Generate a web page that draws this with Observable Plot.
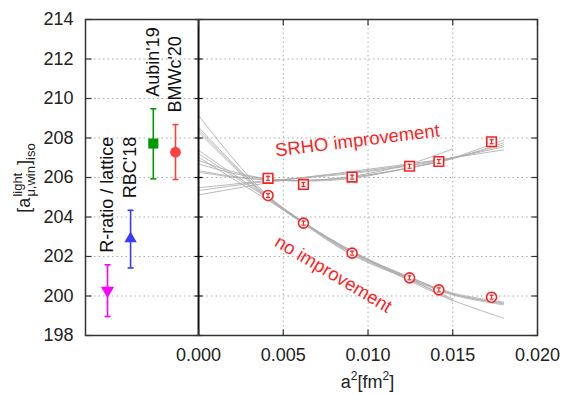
<!DOCTYPE html>
<html>
<head>
<meta charset="utf-8">
<script src="https://cdn.jsdelivr.net/npm/d3@7"></script>
<script src="https://cdn.jsdelivr.net/npm/@observablehq/plot@0.6"></script>
<style>
  html, body { margin: 0; padding: 0; background: white; }
</style>
</head>
<body>
<script>
// ---- reference results (left panel) ----
const refLabels = ["R-ratio / lattice", "RBC'18", "Aubin'19", "BMWc'20"];
const refX = [-0.00537, -0.00401, -0.00267, -0.00136];
const refValue = [200.28, 202.90, 207.72, 207.28];
const refLow = [198.96, 201.42, 205.93, 205.90];
const refHigh = [201.58, 204.34, 209.48, 208.68];

// ---- lattice data (right panel) ----
const a2 = [0.00410, 0.00619, 0.00906, 0.01245, 0.01418, 0.01729];
const srho = [205.96, 205.65, 206.02, 206.57, 206.81, 207.81];
const srhoErr = [0.10, 0.10, 0.10, 0.10, 0.10, 0.10];
const noImp = [205.09, 203.69, 202.17, 200.92, 200.31, 199.94];
const noImpErr = [0.10, 0.10, 0.10, 0.10, 0.10, 0.10];

// ---- fit curves, read at knots ----
const fitX = [0, 0.002, 0.004, 0.0062, 0.009, 0.0125, 0.015, 0.018];
const srhoFits = [
  [205.12, 205.42, 205.72, 206.00, 206.30, 206.70, 207.00, 207.40],
  [205.34, 205.58, 205.80, 206.00, 206.25, 206.65, 207.00, 207.55],
  [205.48, 205.66, 205.84, 205.98, 206.20, 206.60, 207.00, 207.65],
  [206.27, 206.02, 205.88, 205.84, 206.02, 206.50, 206.95, 207.76],
  [206.35, 206.06, 205.90, 205.85, 206.00, 206.50, 207.00, 207.90],
  [206.69, 206.22, 205.93, 205.82, 205.95, 206.50, 206.95, null],
  [206.86, 206.30, 205.95, 205.85, 206.05, 206.70, 207.45, null]
];
const noImpFits = [
  [209.14, 207.00, 205.15, 203.72, 202.20, 200.88, 200.10, 199.64],
  [208.55, 206.75, 205.10, 203.72, 202.22, 200.92, 200.15, 199.69],
  [208.42, 206.68, 205.06, 203.68, 202.15, 200.86, 200.05, 199.55],
  [208.30, 206.60, 205.00, 203.65, 202.10, 200.80, 199.85, null],
  [207.37, 206.20, 205.05, 203.75, 202.25, 200.95, 200.10, 199.60],
  [207.20, 206.10, 205.00, 203.72, 202.30, 200.85, 199.75, null],
  [207.03, 205.95, 204.90, 203.70, 202.30, 200.75, 199.78, 198.88]
];

// ---- axes ----
const xTicks = [0, 0.005, 0.010, 0.015, 0.020];
const xGrid = [0.005, 0.010, 0.015];
const yTicks = [198, 200, 202, 204, 206, 208, 210, 212, 214];
const xLabel = ["a", "2", "[fm", "2", "]"];
const yLabelParts = {main: "[a", sup: "light", sub: "μ,win", close: "]", iso: "iso"};
const noteSrho = "SRHO improvement";
const noteNo = "no improvement";

// ---- tables ----
const refRows = refLabels.map((label, i) => ({label, x: refX[i], v: refValue[i], lo: refLow[i], hi: refHigh[i]}));
const srhoRows = a2.map((x, i) => ({x, v: srho[i], lo: srho[i] - srhoErr[i], hi: srho[i] + srhoErr[i]}));
const noRows = a2.map((x, i) => ({x, v: noImp[i], lo: noImp[i] - noImpErr[i], hi: noImp[i] + noImpErr[i]}));
const fitRows = [];
srhoFits.forEach((ys, k) => ys.forEach((y, j) => { if (y != null) fitRows.push({id: "s" + k, x: fitX[j], y}); }));
noImpFits.forEach((ys, k) => ys.forEach((y, j) => { if (y != null) fitRows.push({id: "n" + k, x: fitX[j], y}); }));

// ---- custom symbols ----
const hline = {draw(c, size) { const r = Math.sqrt(size / Math.PI); c.moveTo(-r, 0); c.lineTo(r, 0); }};
const tickRight = {draw(c) { c.moveTo(0, 0); c.lineTo(6, 0); }};
const tickLeft = {draw(c) { c.moveTo(0, 0); c.lineTo(-6, 0); }};
const tickUp = {draw(c) { c.moveTo(0, 0); c.lineTo(0, -6); }};
const tickDown = {draw(c) { c.moveTo(0, 0); c.lineTo(0, 6); }};
const tickCross = {draw(c) { c.moveTo(-4, 0); c.lineTo(4, 0); }};

const FONT = "'Liberation Sans', Arial, Helvetica, sans-serif";
const RED = "#ff1f1f";
const markerSize = {"R-ratio / lattice": 4.9, "RBC'18": 4.6, "Aubin'19": 5.7, "BMWc'20": 5.4};

const chart = Plot.plot({
  width: 565,
  height: 395,
  marginLeft: 85,
  marginRight: 28,
  marginTop: 19,
  marginBottom: 60,
  style: {fontFamily: FONT, fontSize: "18px", background: "white", color: "#222", overflow: "visible"},
  x: {domain: [-0.00667, 0.020], ticks: xTicks, tickFormat: d3.format(".3f"), tickSize: 0, tickPadding: 13, label: null},
  y: {domain: [198, 214], ticks: yTicks, tickSize: 0, tickPadding: 12, label: null},
  r: {type: "identity"},
  color: {domain: refLabels, range: ["#ff00ff", "#3a3aff", "#009a00", "#ff4040"]},
  symbol: {domain: refLabels, range: ["triangle", "triangle", "square", "circle"]},
  marks: [
    Plot.ruleY(yTicks, {y: d => d, stroke: "#aaa", strokeDasharray: "1.5,3", strokeWidth: 1}),
    Plot.ruleX(xGrid, {x: d => d, stroke: "#aaa", strokeDasharray: "1.5,3", strokeWidth: 1}),
    Plot.line(fitRows, {x: "x", y: "y", z: "id", curve: "catmull-rom", stroke: "#ababab", strokeWidth: 0.85}),
    Plot.ruleX([0], {stroke: "#111", strokeWidth: 2}),
    Plot.dot(yTicks, {x: 0, y: d => d, symbol: tickCross, r: 4, fill: "none", stroke: "#111", strokeWidth: 1.2}),
    // left panel reference values
    Plot.ruleX(refRows, {x: "x", y1: "lo", y2: "hi", stroke: "label", strokeWidth: 1.6}),
    Plot.dot(refRows, {x: "x", y: "lo", symbol: hline, r: 3, stroke: "label", strokeWidth: 1.6, fill: "none"}),
    Plot.dot(refRows, {x: "x", y: "hi", symbol: hline, r: 3, stroke: "label", strokeWidth: 1.6, fill: "none"}),
    Plot.dot(refRows, {x: "x", y: "v", symbol: "label", fill: "label", stroke: "none",
      r: d => markerSize[d.label],
      rotate: d => d.label === "R-ratio / lattice" ? 180 : 0}),
    Plot.text(refRows, {x: "x", y: "hi", text: "label", rotate: -90, textAnchor: "start", dy: -12, fill: "#111", fontSize: 18}),
    // right panel lattice points
    Plot.dot(srhoRows, {x: "x", y: "v", symbol: "square", r: 5.4, fill: "white", stroke: RED, strokeWidth: 1.6}),
    Plot.dot(noRows, {x: "x", y: "v", symbol: "circle", r: 5, fill: "white", stroke: RED, strokeWidth: 1.6}),
    Plot.ruleX(srhoRows.concat(noRows), {x: "x", y1: "lo", y2: "hi", stroke: RED, strokeWidth: 1.2}),
    Plot.dot(srhoRows.concat(noRows), {x: "x", y: "lo", symbol: hline, r: 2, stroke: RED, strokeWidth: 1.2, fill: "none"}),
    Plot.dot(srhoRows.concat(noRows), {x: "x", y: "hi", symbol: hline, r: 2, stroke: RED, strokeWidth: 1.2, fill: "none"}),
    Plot.text([noteSrho], {x: 0.00938, y: 207.87, text: d => d, rotate: -7, fill: RED, fontSize: 18.5}),
    Plot.text([noteNo], {x: 0.00796, y: 201.1, text: d => d, rotate: 31, fill: RED, fontSize: 18.5}),
    // frame and inward ticks
    Plot.frame({stroke: "#333", strokeWidth: 1.5}),
    Plot.dot(yTicks, {y: d => d, frameAnchor: "left", symbol: tickRight, r: 3, fill: "none", stroke: "#333", strokeWidth: 1.2}),
    Plot.dot(yTicks, {y: d => d, frameAnchor: "right", symbol: tickLeft, r: 3, fill: "none", stroke: "#333", strokeWidth: 1.2}),
    Plot.dot(xTicks, {x: d => d, frameAnchor: "bottom", symbol: tickUp, r: 3, fill: "none", stroke: "#333", strokeWidth: 1.2}),
    Plot.dot(xTicks, {x: d => d, frameAnchor: "top", symbol: tickDown, r: 3, fill: "none", stroke: "#333", strokeWidth: 1.2})
  ]
});

document.body.appendChild(chart);

// ---- axis titles with sub/superscripts ----
const svg = d3.select(chart);
const xs = chart.scale("x");
const xl = svg.append("text")
  .attr("x", xs.apply(0.010)).attr("y", 388)
  .attr("text-anchor", "middle").attr("font-family", FONT).attr("font-size", 18).attr("fill", "#222");
xl.append("tspan").text(xLabel[0]);
xl.append("tspan").attr("font-size", 12).attr("dy", -8).text(xLabel[1]);
xl.append("tspan").attr("dy", 8).text(xLabel[2]);
xl.append("tspan").attr("font-size", 12).attr("dy", -8).text(xLabel[3]);
xl.append("tspan").attr("dy", 8).text(xLabel[4]);

const gOuter = svg.append("g").attr("transform", "translate(30,178) rotate(-90)")
  .attr("font-family", FONT).attr("fill", "#222").attr("text-anchor", "start");
const g = gOuter.append("g");
const tMain = g.append("text").attr("x", 0).attr("y", 0).attr("font-size", 18).text(yLabelParts.main);
const w1 = tMain.node().getComputedTextLength();
const tSup = g.append("text").attr("x", w1 + 1).attr("y", -8).attr("font-size", 13).text(yLabelParts.sup);
const tSub = g.append("text").attr("x", w1 + 1).attr("y", 5).attr("font-size", 13).text(yLabelParts.sub);
const w2 = Math.max(tSup.node().getComputedTextLength(), tSub.node().getComputedTextLength()) + 1;
const tClose = g.append("text").attr("x", w1 + 1 + w2).attr("y", 0).attr("font-size", 18).text(yLabelParts.close);
const w3 = tClose.node().getComputedTextLength();
const tIso = g.append("text").attr("x", w1 + 1 + w2 + w3).attr("y", 5).attr("font-size", 13).text(yLabelParts.iso);
const total = w1 + 1 + w2 + w3 + tIso.node().getComputedTextLength();
g.attr("transform", `translate(${-total / 2},0)`);
</script>
</body>
</html>
